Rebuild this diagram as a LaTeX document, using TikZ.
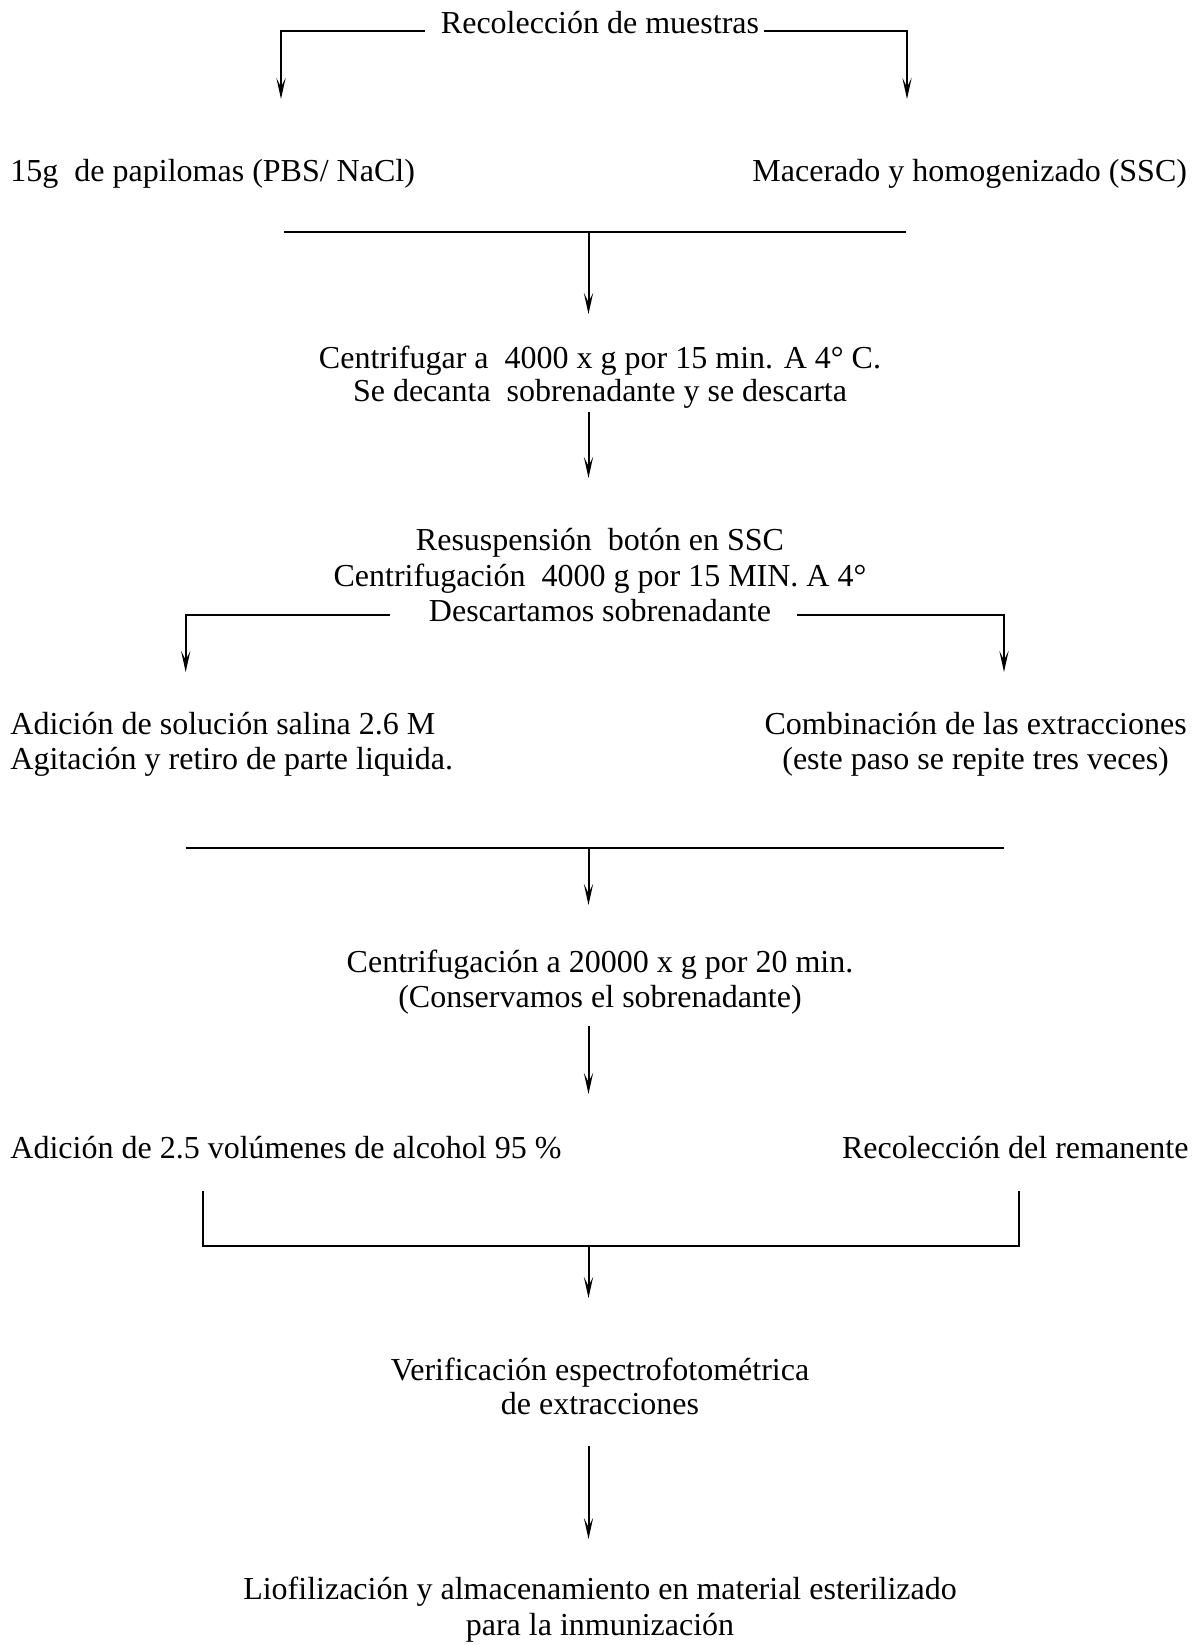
\documentclass[tikz,border=0pt]{standalone}
\usepackage{fontspec}
\setmainfont{Liberation Serif}
\usetikzlibrary{arrows.meta}
\begin{document}
\begin{tikzpicture}[x=0.5pt,y=-0.5pt,
  every node/.style={inner sep=0pt,outer sep=0pt,font=\fontsize{16pt}{17.25pt}\selectfont},
  ln/.style={line width=1pt},
  arr/.style={ln,-{Stealth[length=10.5pt,width=4.6pt,inset=4.5pt]}},
  ctr/.style={anchor=base},
  lft/.style={anchor=base west},
  rgt/.style={anchor=base east}]
\useasboundingbox (0,0) rectangle (1198,1645);
% texts
\node[ctr] (t1) at (600,33) {Recolección de muestras};
\node[lft] (t2a) at (10.5,181) {15g\ \ de papilomas (PBS/ NaCl)};
\node[rgt] (t2b) at (1187,181) {Macerado y homogenizado (SSC)};
\node[ctr] (t3a) at (600,368) {Centrifugar a\ \ 4000 x g por 15 min. A 4° C.};
\node[ctr] (t3b) at (600,401) {Se decanta\ \ sobrenadante y se descarta};
\node[ctr] (t4a) at (600,550) {Resuspensión\ \ botón en SSC};
\node[ctr] (t4b) at (600,586) {Centrifugación\ \ 4000 g por 15 MIN. A 4°};
\node[ctr] (t4c) at (600,621) {Descartamos sobrenadante};
\node[lft] (t5a) at (10.5,734) {Adición de solución salina 2.6 M};
\node[lft] (t5b) at (10.5,769) {Agitación y retiro de parte liquida.};
\node[ctr] (t5c) at (975.6,734) {Combinación de las extracciones};
\node[ctr] (t5d) at (975.6,769) {(este paso se repite tres veces)};
\node[ctr] (t6a) at (600,972) {Centrifugación a 20000 x g por 20 min.};
\node[ctr] (t6b) at (600,1007) {(Conservamos el sobrenadante)};
\node[lft] (t7a) at (10.5,1158) {Adición de 2.5 volúmenes de alcohol 95 \%};
\node[rgt] (t7b) at (1188.5,1158) {Recolección del remanente};
\node[ctr] (t8a) at (600,1380) {Verificación espectrofotométrica};
\node[ctr] (t8b) at (600,1414) {de extracciones};
\node[ctr] (t9a) at (600,1599) {Liofilización y almacenamiento en material esterilizado};
\node[ctr] (t9b) at (600,1635) {para la inmunización};
% connector points
\coordinate (a1) at (425,31);   \coordinate (a2) at (281,99);
\coordinate (b1) at (764,31);   \coordinate (b2) at (907,99);
\coordinate (c1) at (284,232);  \coordinate (c2) at (906,232);
\coordinate (c3) at (588.5,232); \coordinate (c4) at (588.5,314);
\coordinate (d1) at (588.5,412); \coordinate (d2) at (588.5,478);
\coordinate (e1) at (390,615);  \coordinate (e2) at (185.7,672);
\coordinate (f1) at (797,615);  \coordinate (f2) at (1004,672);
\coordinate (g1) at (185.7,847.6); \coordinate (g2) at (1004,847.6);
\coordinate (g3) at (588.5,847.6); \coordinate (g4) at (588.5,905);
\coordinate (h1) at (588.5,1026); \coordinate (h2) at (588.5,1094);
\coordinate (i1) at (202.5,1190.6); \coordinate (i2) at (1018.6,1246); \coordinate (i3) at (1018.6,1190.6);
\coordinate (i4) at (588.5,1246); \coordinate (i5) at (588.5,1298);
\coordinate (j1) at (588.5,1445.5); \coordinate (j2) at (588.5,1539);
% connectors
\draw[arr] (a1) -| (a2);
\draw[arr] (b1) -| (b2);
\draw[ln] (c1) -- (c2);
\draw[arr] (c3) -- (c4);
\draw[arr] (d1) -- (d2);
\draw[arr] (e1) -| (e2);
\draw[arr] (f1) -| (f2);
\draw[ln] (g1) -- (g2);
\draw[arr] (g3) -- (g4);
\draw[arr] (h1) -- (h2);
\draw[ln] (i1) |- (i2) -- (i3);
\draw[arr] (i4) -- (i5);
\draw[arr] (j1) -- (j2);
\end{tikzpicture}
\end{document}
